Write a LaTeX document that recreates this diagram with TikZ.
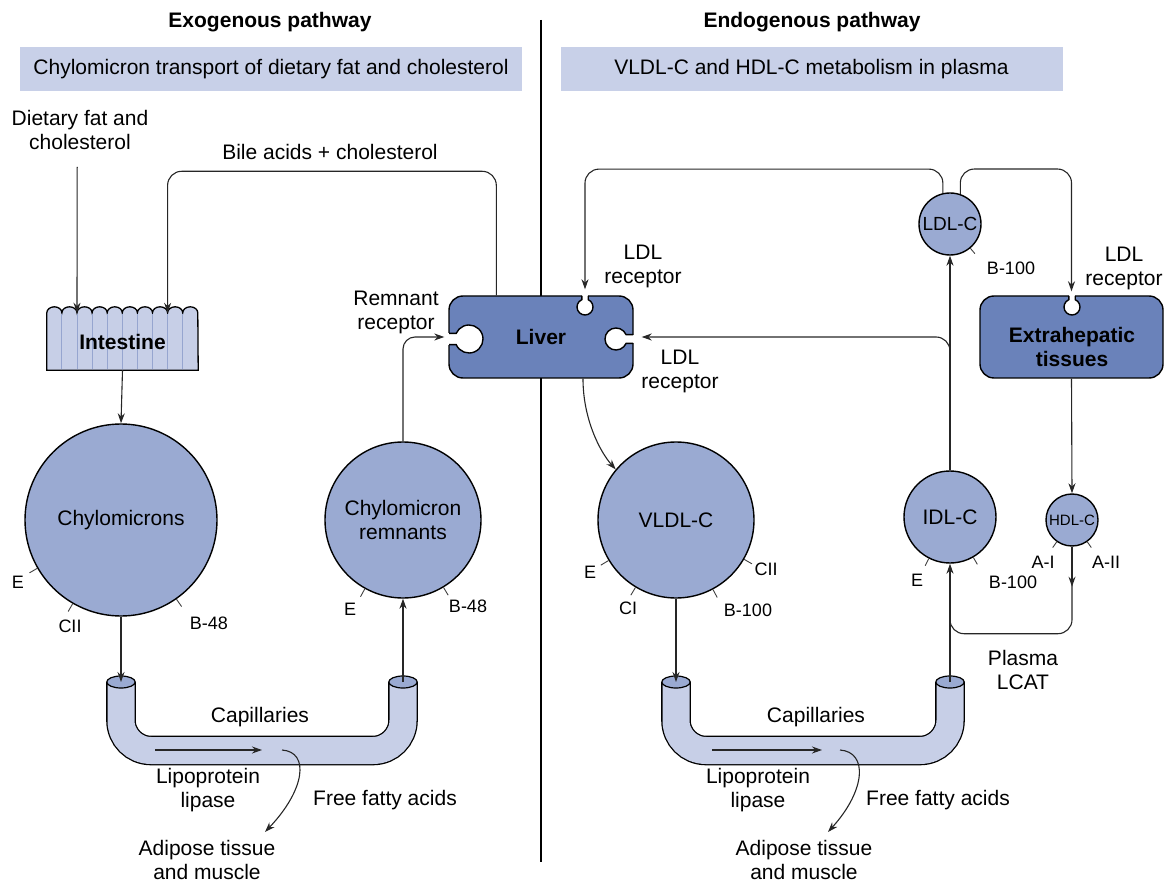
\documentclass[tikz,border=0pt]{standalone}
\usepackage{fontspec}
\setmainfont{Liberation Sans}
\usetikzlibrary{arrows.meta,positioning,calc,backgrounds}
\definecolor{lipoblue}{HTML}{9AAAD2}
\definecolor{liverblue}{HTML}{6A82BA}
\definecolor{barblue}{HTML}{C8D0E8}
\definecolor{tubeblue}{HTML}{C7CFE7}
\definecolor{seamblue}{HTML}{96A5CF}
% receptor notch: x, y, radius, turn, neck length
\newcommand{\keyhole}[5]{%
  \begin{scope}[shift={(#1,#2)},rotate=#4]
    \fill[white] (0,0) circle (#3);
    \fill[white] (-#5-1.5,-0.4*#3) rectangle (0,0.4*#3);
    \draw[notch] (-#5,0.4*#3) -- ({-0.9165*#3},0.4*#3)
      arc[start angle=156.42,end angle=-156.42,radius=#3] -- (-#5,-0.4*#3);
  \end{scope}}
\tikzset{
  >={Stealth[length=10pt,width=7pt]},
  % rubriker
  head/.style={font=\fontsize{21}{24}\selectfont\bfseries},
  banner/.style={fill=barblue,minimum width=502pt,minimum height=44pt,inner sep=0pt},
  lbl/.style={align=center,inner sep=1pt},
  divider/.style={draw=black,line width=1.2pt},
  % organ
  organ/.style={draw=black,fill=liverblue,line width=1.4pt,rounded corners=14pt,
                minimum height=82pt,align=center,font=\fontsize{21}{24}\selectfont\bfseries},
  organtxt/.style={align=center,inner sep=0pt,font=\fontsize{21}{24}\selectfont\bfseries},
  notch/.style={draw=black,line width=1.4pt},
  gut/.style={minimum width=151pt,minimum height=57pt,inner sep=0pt,
              font=\fontsize{21}{24}\selectfont\bfseries},
  gutwall/.style={draw=black,fill=tubeblue,line width=1.3pt},
  gutseam/.style={draw=seamblue,line width=1pt},
  % partiklar
  lipo/.style={circle,draw=black,fill=lipoblue,line width=1.4pt,inner sep=0pt,align=center},
  apo/.style={draw=black!75,line width=0.9pt},
  apol/.style={font=\fontsize{18}{20}\selectfont,inner sep=0pt},
  % kapillärer och flöden
  tube/.style={double=tubeblue,double distance=27pt,line width=1.3pt,rounded corners=30pt},
  tubetop/.style={draw=black,fill=lipoblue,line width=1.2pt},
  flow/.style={->,draw=black!85,line width=1.1pt},
  link/.style={draw=black!85,line width=1.1pt},
}
\begin{document}
\begin{tikzpicture}[x=1pt,y=-1pt,font=\fontsize{21}{24}\selectfont]
  \useasboundingbox (0,0) rectangle (1165,882);
  % rubriker
  \node[head] (exohd) at (270,22) {Exogenous pathway};
  \node[head] (endohd) at (812,22) {Endogenous pathway};
  \node[banner] (exobar) at (271,69) {Chylomicron transport of dietary fat and cholesterol};
  \node[banner] (endobar) at (811.5,69) {VLDL-C and HDL-C metabolism in plasma};
  % organ
  \node[gut] (gut) at (122.5,341.5) {Intestine};
  \node[organ,minimum width=184pt] (liver) at (541,337) {Liver};
  \node[organ,minimum width=183pt] (extra) at (1071.5,337) {};
  \node[organtxt] (extratxt) at (1072,347) {Extrahepatic\\tissues};
  \keyhole{469}{339}{14}{0}{20}
  \keyhole{616}{339}{11}{180}{17}
  \keyhole{585}{307}{8}{-90}{11}
  \keyhole{1072}{307}{8}{-90}{11}
  \begin{scope}[on background layer]
    \draw[divider] (541,20) -- (541,862);
    \filldraw[gutwall] (gut.south west) -- (gut.north west)
      \foreach \i in {1,...,10}{arc[start angle=180,end angle=360,x radius=7.55,y radius=6]}
      -- (gut.south east) -- cycle;
    \foreach \i in {1,...,9}
      \draw[gutseam] ([shift={(\i*15.1pt,-1pt)}]gut.north west) -- ([shift={(\i*15.1pt,1pt)}]gut.south west);
  \end{scope}
  % partiklar
  \node[lipo,minimum size=192pt] (chylo) at (121,520) {Chylomicrons};
  \node[lipo,minimum size=156pt] (remn) at (403,520) {Chylomicron\\remnants};
  \node[lipo,minimum size=156pt] (vldl) at (676,520) {VLDL-C};
  \node[lipo,minimum size=92pt] (idl) at (950,517) {IDL-C};
  \node[lipo,minimum size=52pt,font=\fontsize{15}{17}\selectfont] (hdl) at (1072,520) {HDL-C};
  \node[lipo,minimum size=62pt,font=\fontsize{19}{21}\selectfont] (ldl) at (950,224) {LDL-C};
  \foreach \a in {210,240,305}
    \draw[apo] (chylo.\a) -- ($(chylo.\a)!-9pt!(chylo.center)$);
  \foreach \a in {241,301}
    \draw[apo] (remn.\a) -- ($(remn.\a)!-9pt!(remn.center)$);
  \foreach \a in {211,239,298,330}
    \draw[apo] (vldl.\a) -- ($(vldl.\a)!-9pt!(vldl.center)$);
  \foreach \a in {243,300}
    \draw[apo] (idl.\a) -- ($(idl.\a)!-8pt!(idl.center)$);
  \foreach \a in {235,305}
    \draw[apo] (hdl.\a) -- ($(hdl.\a)!-7pt!(hdl.center)$);
  \draw[apo] (ldl.310) -- ($(ldl.310)!-7pt!(ldl.center)$);
  \node[apol] (chyE) at (18,582) {E};
  \node[apol] (chyC) at (70,626) {CII};
  \node[apol] (chyB) at (209,623) {B-48};
  \node[apol] (remE) at (350,609) {E};
  \node[apol] (remB) at (468,606) {B-48};
  \node[apol] (vlE) at (590,572) {E};
  \node[apol] (vlCI) at (628,608) {CI};
  \node[apol] (vlB) at (748,610) {B-100};
  \node[apol] (vlCII) at (766,569) {CII};
  \node[apol] (idE) at (917,580) {E};
  \node[apol] (idB) at (1013,582) {B-100};
  \node[apol] (hdA) at (1043,562) {A-I};
  \node[apol] (hdAA) at (1106,562) {A-II};
  \node[apol] (ldB) at (1011,268) {B-100};
  % kapillärer
  \coordinate (capLa) at (121,682);
  \coordinate (capLb) at (403,682);
  \coordinate (capRa) at (676,682);
  \coordinate (capRb) at (950,682);
  \draw[tube] (capLa) -- ++(0,68.5) -| (capLb);
  \draw[tube] (capRa) -- ++(0,68.5) -| (capRb);
  \foreach \c in {capLa,capLb,capRa,capRb}
    \draw[tubetop] (\c) ellipse[x radius=14.2,y radius=6];
  % texter
  \node[lbl] (diet) at (80,130) {Dietary fat and\\cholesterol};
  \node[lbl] (bile) at (330,152) {Bile acids + cholesterol};
  \node[lbl] (remrec) at (396,312) {Remnant\\receptor};
  \node[lbl] (ldlrA) at (643,266) {LDL\\receptor};
  \node[lbl] (ldlrB) at (680,371) {LDL\\receptor};
  \node[lbl] (ldlrC) at (1124,268) {LDL\\receptor};
  \node[lbl] (capA) at (260,717) {Capillaries};
  \node[lbl] (capB) at (816,717) {Capillaries};
  \node[lbl] (lplA) at (208,790) {Lipoprotein\\lipase};
  \node[lbl] (lplB) at (758,790) {Lipoprotein\\lipase};
  \node[lbl] (ffaA) at (385,800) {Free fatty acids};
  \node[lbl] (ffaB) at (938,800) {Free fatty acids};
  \node[lbl] (fatA) at (207,860) {Adipose tissue\\and muscle};
  \node[lbl] (fatB) at (804,860) {Adipose tissue\\and muscle};
  \node[lbl] (lcat) at (1023,670) {Plasma\\LCAT};
  % flöden, exogen
  \coordinate (dietA) at (77.2,167);
  \coordinate (gutA) at ([xshift=30.2pt]gut.north west);
  \coordinate (gutB) at ([xshift=120.8pt]gut.north west);
  \draw[flow] (dietA) -- (gutA);
  \draw[flow,rounded corners=14pt] ([xshift=48pt]liver.north west) -- ++(0,-124) -| (gutB);
  \draw[flow] (gut.south) -- (chylo.north);
  \draw[flow] (chylo.south) -- (capLa);
  \draw[flow] (capLb) -- (remn.south);
  \draw[flow,rounded corners=12pt] (remn.north) |- ([xshift=-4pt]liver.west);
  \coordinate (lplLa) at (155,750);
  \coordinate (lplLb) at (262,750);
  \draw[flow] (lplLa) -- (lplLb);
  \coordinate (ffaLa) at (282,750);
  \coordinate (ffaLb) at (265,832);
  \draw[flow] (ffaLa) .. controls +(28,2) and +(40,-42) .. (ffaLb);
  % flöden, endogen
  \draw[flow] ([xshift=42pt]liver.south) .. controls +(0,40) and +(-16,-18) .. (vldl.140);
  \draw[flow] (vldl.south) -- (capRa);
  \draw[flow] (capRb) -- (idl.south);
  \draw[flow] (idl.north) -- (ldl.south);
  \draw[flow,rounded corners=14pt] (idl.north) |- ([xshift=8pt]liver.east);
  \draw[flow,rounded corners=14pt] (ldl.103) -- ++(0,-24) -| ([shift={(44pt,6pt)}]liver.north);
  \draw[flow,rounded corners=14pt] (ldl.71) -- ++(0,-25) -| ([yshift=4pt]extra.north);
  \draw[flow] (extra.south) -- (hdl.north);
  \draw[flow] (hdl.south) -- ([yshift=-40pt]hdl.south);
  \draw[link,rounded corners=14pt] ([yshift=-38pt]hdl.south) |- ([yshift=-70pt]idl.south)
    -- ([yshift=-40pt]idl.south);
  \coordinate (lplRa) at (712,750);
  \coordinate (lplRb) at (822,750);
  \draw[flow] (lplRa) -- (lplRb);
  \coordinate (ffaRa) at (840,750);
  \coordinate (ffaRb) at (828,832);
  \draw[flow] (ffaRa) .. controls +(28,2) and +(38,-42) .. (ffaRb);
\end{tikzpicture}
\end{document}
